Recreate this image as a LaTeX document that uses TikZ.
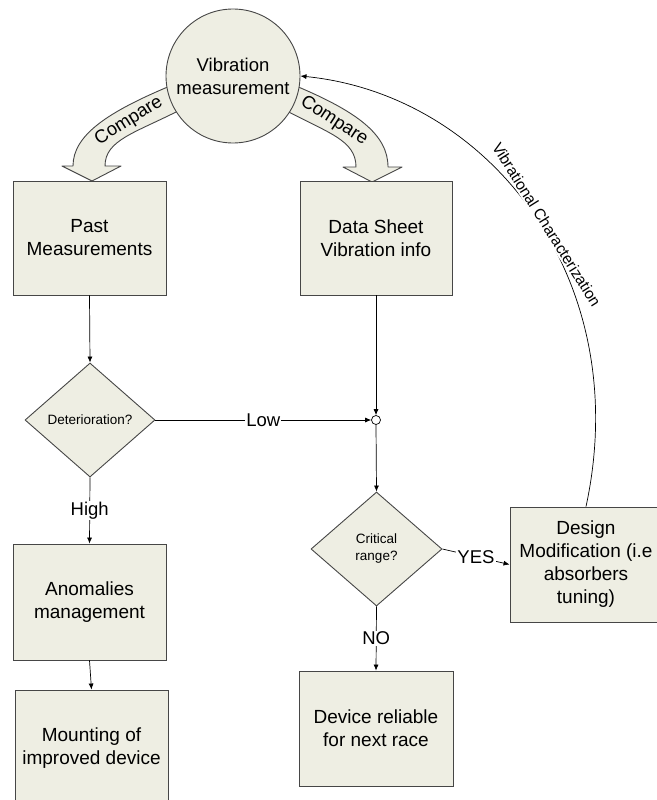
\documentclass[tikz,border=0pt]{standalone}
\usepackage{fontspec}
\setmainfont{Liberation Sans}
\usetikzlibrary{shapes.geometric,arrows.meta}
\definecolor{boxfill}{RGB}{238,238,227}
\definecolor{boxline}{RGB}{70,70,70}
\begin{document}
\begin{tikzpicture}[x=1pt,y=-1pt,
  procbox/.style={rectangle, draw=boxline, fill=boxfill, line width=0.9pt, align=center,
    font=\fontsize{19}{23}\selectfont, inner sep=2pt},
  decision/.style={diamond, draw=boxline, fill=boxfill, line width=0.9pt, align=center,
    font=\fontsize{13.5}{17}\selectfont, inner sep=0pt},
  lbl/.style={fill=white, inner sep=1pt, font=\fontsize{18.5}{20}\selectfont},
  conn/.style={-{Latex[length=6pt,width=5pt]}, line width=0.7pt},
  blockarrow/.style={draw=boxline, fill=boxfill, line width=0.9pt, line join=round},
  cmp/.style={font=\fontsize{18.5}{20}\selectfont, inner sep=0pt}
]
\useasboundingbox (0,0) rectangle (656,800);

% block arrows "Compare"
\draw[blockarrow] (170,86) .. controls (108,112) and (73,135) .. (73,166)
  -- (62,166) -- (92,181) -- (121,166) -- (105,166)
  .. controls (105,140) and (135,133) .. (180,110) -- cycle;
\draw[blockarrow] (296,86) .. controls (358,112) and (388,135) .. (388,167)
  -- (402,167) -- (372,182) -- (343,167) -- (356,167)
  .. controls (356,140) and (328,133) .. (285,110) -- cycle;
\node[cmp, rotate=32] (cmpL) at (129,121) {Compare};
\node[cmp, rotate=-33] (cmpR) at (334,121) {Compare};

% nodes
\node[circle, draw=boxline, fill=boxfill, line width=0.9pt, minimum size=134pt, inner sep=0pt,
  align=center, font=\fontsize{18.5}{23}\selectfont] (meas) at (233,76) {Vibration\\measurement};
\node[procbox, minimum width=153pt, minimum height=114pt] (past) at (89.5,238) {Past\\Measurements};
\node[procbox, minimum width=152pt, minimum height=114pt] (data) at (376,238) {Data Sheet\\Vibration info};
\node[decision, minimum width=130pt, minimum height=114pt] (det) at (90,420) {Deterioration?};
\node[circle, draw=black, fill=white, line width=0.7pt, minimum size=9pt, inner sep=0pt] (j) at (376,420) {};
\node[decision, minimum width=131pt, minimum height=114pt] (crit) at (376.5,549) {Critical\\range?};
\node[procbox, minimum width=152pt, minimum height=115pt] (des) at (586,564.5) {Design\\Modification (i.e\\absorbers\\tuning)};
\node[procbox, minimum width=153pt, minimum height=116pt] (anom) at (89.5,602) {Anomalies\\management};
\node[procbox, minimum width=153pt, minimum height=116pt] (mount) at (91.5,748) {Mounting of\\improved device};
\node[procbox, minimum width=154pt, minimum height=115pt] (dev) at (376,728.5) {Device reliable\\for next race};

% connectors
\draw[conn] (past.south) -- (det.north);
\draw[conn] (data.south) -- (j.north);
\draw[conn] (det.east) -- node[lbl] (low) {Low} (j.west);
\draw[conn] (j.south) -- (crit.north);
\draw[conn] (det.south) -- node[lbl] (high) {High} (anom.north);
\draw[conn] (anom.south) -- (mount.north);
\draw[conn] (crit.east) -- node[lbl] (yes) {YES} (des.west);
\draw[conn] (crit.south) -- node[lbl] (no) {NO} (dev.north);
\draw[conn] (des.north) .. controls (635,280) and (490,95) .. (meas.east)
  node[pos=0.47, sloped, anchor=base, fill=white, inner sep=1.5pt,
       font=\fontsize{15.5}{17}\selectfont] (vc) {Vibrational Characterization};
\end{tikzpicture}
\end{document}
